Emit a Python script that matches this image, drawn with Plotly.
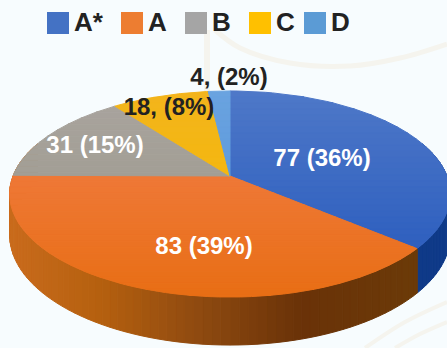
import numpy as np
import plotly.graph_objects as go

W, H = 447, 348
categories = ["A*", "A", "B", "C", "D"]
values = [77, 83, 31, 18, 4]
labels = ["77 (36%)", "83 (39%)", "31 (15%)", "18, (8%)", "4, (2%)"]
legend_colors = ["#4472C4", "#ED7D31", "#A5A5A5", "#FFC000", "#5B9BD5"]
face_top = ["#4E78C8", "#F37F4E", "#A9A49E", "#F3B41C", "#6AA3E0"]
face_bottom = ["#2558BC", "#E86E14", "#989688", "#F5BC00", "#4F8FD8"]
wall_stops_x = [10, 100, 200, 300, 410, 447]
wall_stops = {0: ["#0F3A88"] * 6,
              1: ["#C96B1C", "#B5600F", "#8E4A10", "#6A3208", "#6B3A08", "#6B3A08"]}
label_xy = [(322, 160), (204, 248), (95, 147), (169, 109), (229, 79)]
label_colors = ["white", "white", "white", "#222222", "#222222"]
legend_x = [47, 121, 185, 249, 304]
BG = "#F7FCFE"

CX, CY, A, B, K, DEPTH = 230, 176, 99.9, 217, 0.1748, 39.6


def rgb(h):
    return np.array([int(h[i:i + 2], 16) for i in (1, 3, 5)], float)


def css(c):
    return "rgb(%d,%d,%d)" % tuple(np.round(c))


def project(theta, depth=0.0):
    u, v = np.sin(theta), np.cos(theta)
    w = 1 + K * v
    return CX + B * u / w, CY - A * v / w + depth / w


def clip(poly, y0, y1):
    def half(pts, keep, cut):
        out = []
        for i in range(len(pts)):
            p, q = pts[i], pts[(i + 1) % len(pts)]
            if keep(p):
                out.append(p)
            if keep(p) != keep(q):
                t = (cut - p[1]) / (q[1] - p[1])
                out.append((p[0] + t * (q[0] - p[0]), cut))
        return out
    pts = half(poly, lambda p: p[1] >= y0, y0)
    if pts:
        pts = half(pts, lambda p: p[1] <= y1, y1)
    return pts


def patch(fig, xs, ys, color):
    fig.add_trace(go.Scatter(x=xs, y=ys, mode="lines", fill="toself", fillcolor=color,
                             line=dict(color=color, width=1), hoverinfo="skip",
                             showlegend=False))


fig = go.Figure()

# faint background watermark
for wx, wy, lw in [([207, 207], [30, 92], 6),
                   ([215, 240, 290, 350, 400, 447], [30, 48, 63, 66, 58, 44], 5),
                   ([365, 405, 447], [348, 322, 302], 4),
                   ([395, 420, 447], [348, 334, 322], 4)]:
    fig.add_trace(go.Scatter(x=wx, y=wy, mode="lines", line=dict(color="#F5F4EE", width=lw, shape="spline"),
                             hoverinfo="skip", showlegend=False))

fracs = np.cumsum([0] + values) / sum(values) * 2 * np.pi

# side wall
th = np.linspace(np.radians(70), np.radians(290), 111)
stops = np.array([rgb(c) for c in wall_stops[1]])
for t0, t1 in zip(th[:-1], th[1:]):
    tm = (t0 + t1) / 2
    x0, y0 = project(t0)
    x1, y1 = project(t1)
    x2, y2 = project(t1, DEPTH)
    x3, y3 = project(t0, DEPTH)
    if tm < fracs[1]:
        col = css(rgb(wall_stops[0][0]))
    else:
        xm = (x0 + x1) / 2
        col = css([np.interp(xm, wall_stops_x, stops[:, j]) for j in range(3)])
    patch(fig, [x0, x1, x2, x3, x0], [y0, y1, y2, y3, y0], col)

# top face, banded for the vertical shading
for i in range(len(values)):
    t = np.linspace(fracs[i], fracs[i + 1], 60)
    xs, ys = project(t)
    poly = [(CX, CY)] + list(zip(xs, ys))
    ymin, ymax = min(p[1] for p in poly), max(p[1] for p in poly)
    c0, c1 = rgb(face_top[i]), rgb(face_bottom[i])
    for y0 in np.arange(ymin, ymax, 6):
        pts = clip(poly, y0, y0 + 6)
        if len(pts) < 3:
            continue
        f = np.clip((y0 + 3 - 92) / (297 - 92), 0, 1)
        px = [p[0] for p in pts] + [pts[0][0]]
        py = [p[1] for p in pts] + [pts[0][1]]
        patch(fig, px, py, css(c0 + (c1 - c0) * f))

# slice labels
fig.add_trace(go.Scatter(x=[p[0] for p in label_xy], y=[p[1] for p in label_xy], mode="text",
                         text=labels, textposition="middle center",
                         textfont=dict(family="Liberation Sans", size=24, color=label_colors),
                         texttemplate="<b>%{text}</b>", hoverinfo="skip", showlegend=False))

# legend
fig.add_trace(go.Scatter(x=[x + 11 for x in legend_x], y=[23] * 5, mode="markers",
                         marker=dict(symbol="square", size=22, color=legend_colors, line=dict(width=0)),
                         hoverinfo="skip", showlegend=False))
fig.add_trace(go.Scatter(x=[x + 27 for x in legend_x], y=[24] * 5, mode="text", text=categories,
                         textposition="middle right", texttemplate="<b>%{text}</b>",
                         textfont=dict(family="Liberation Sans", size=26, color="#222222"),
                         hoverinfo="skip", showlegend=False))

fig.update_layout(width=W, height=H, margin=dict(l=0, r=0, t=0, b=0), paper_bgcolor=BG, plot_bgcolor=BG,
                  xaxis=dict(range=[0, W], visible=False, fixedrange=True),
                  yaxis=dict(range=[H, 0], visible=False, fixedrange=True))
fig.write_html("out.html", config=dict(displayModeBar=False),
               post_script="document.body.style.margin='0';document.body.style.overflow='hidden';document.body.style.background='%s';" % BG)
